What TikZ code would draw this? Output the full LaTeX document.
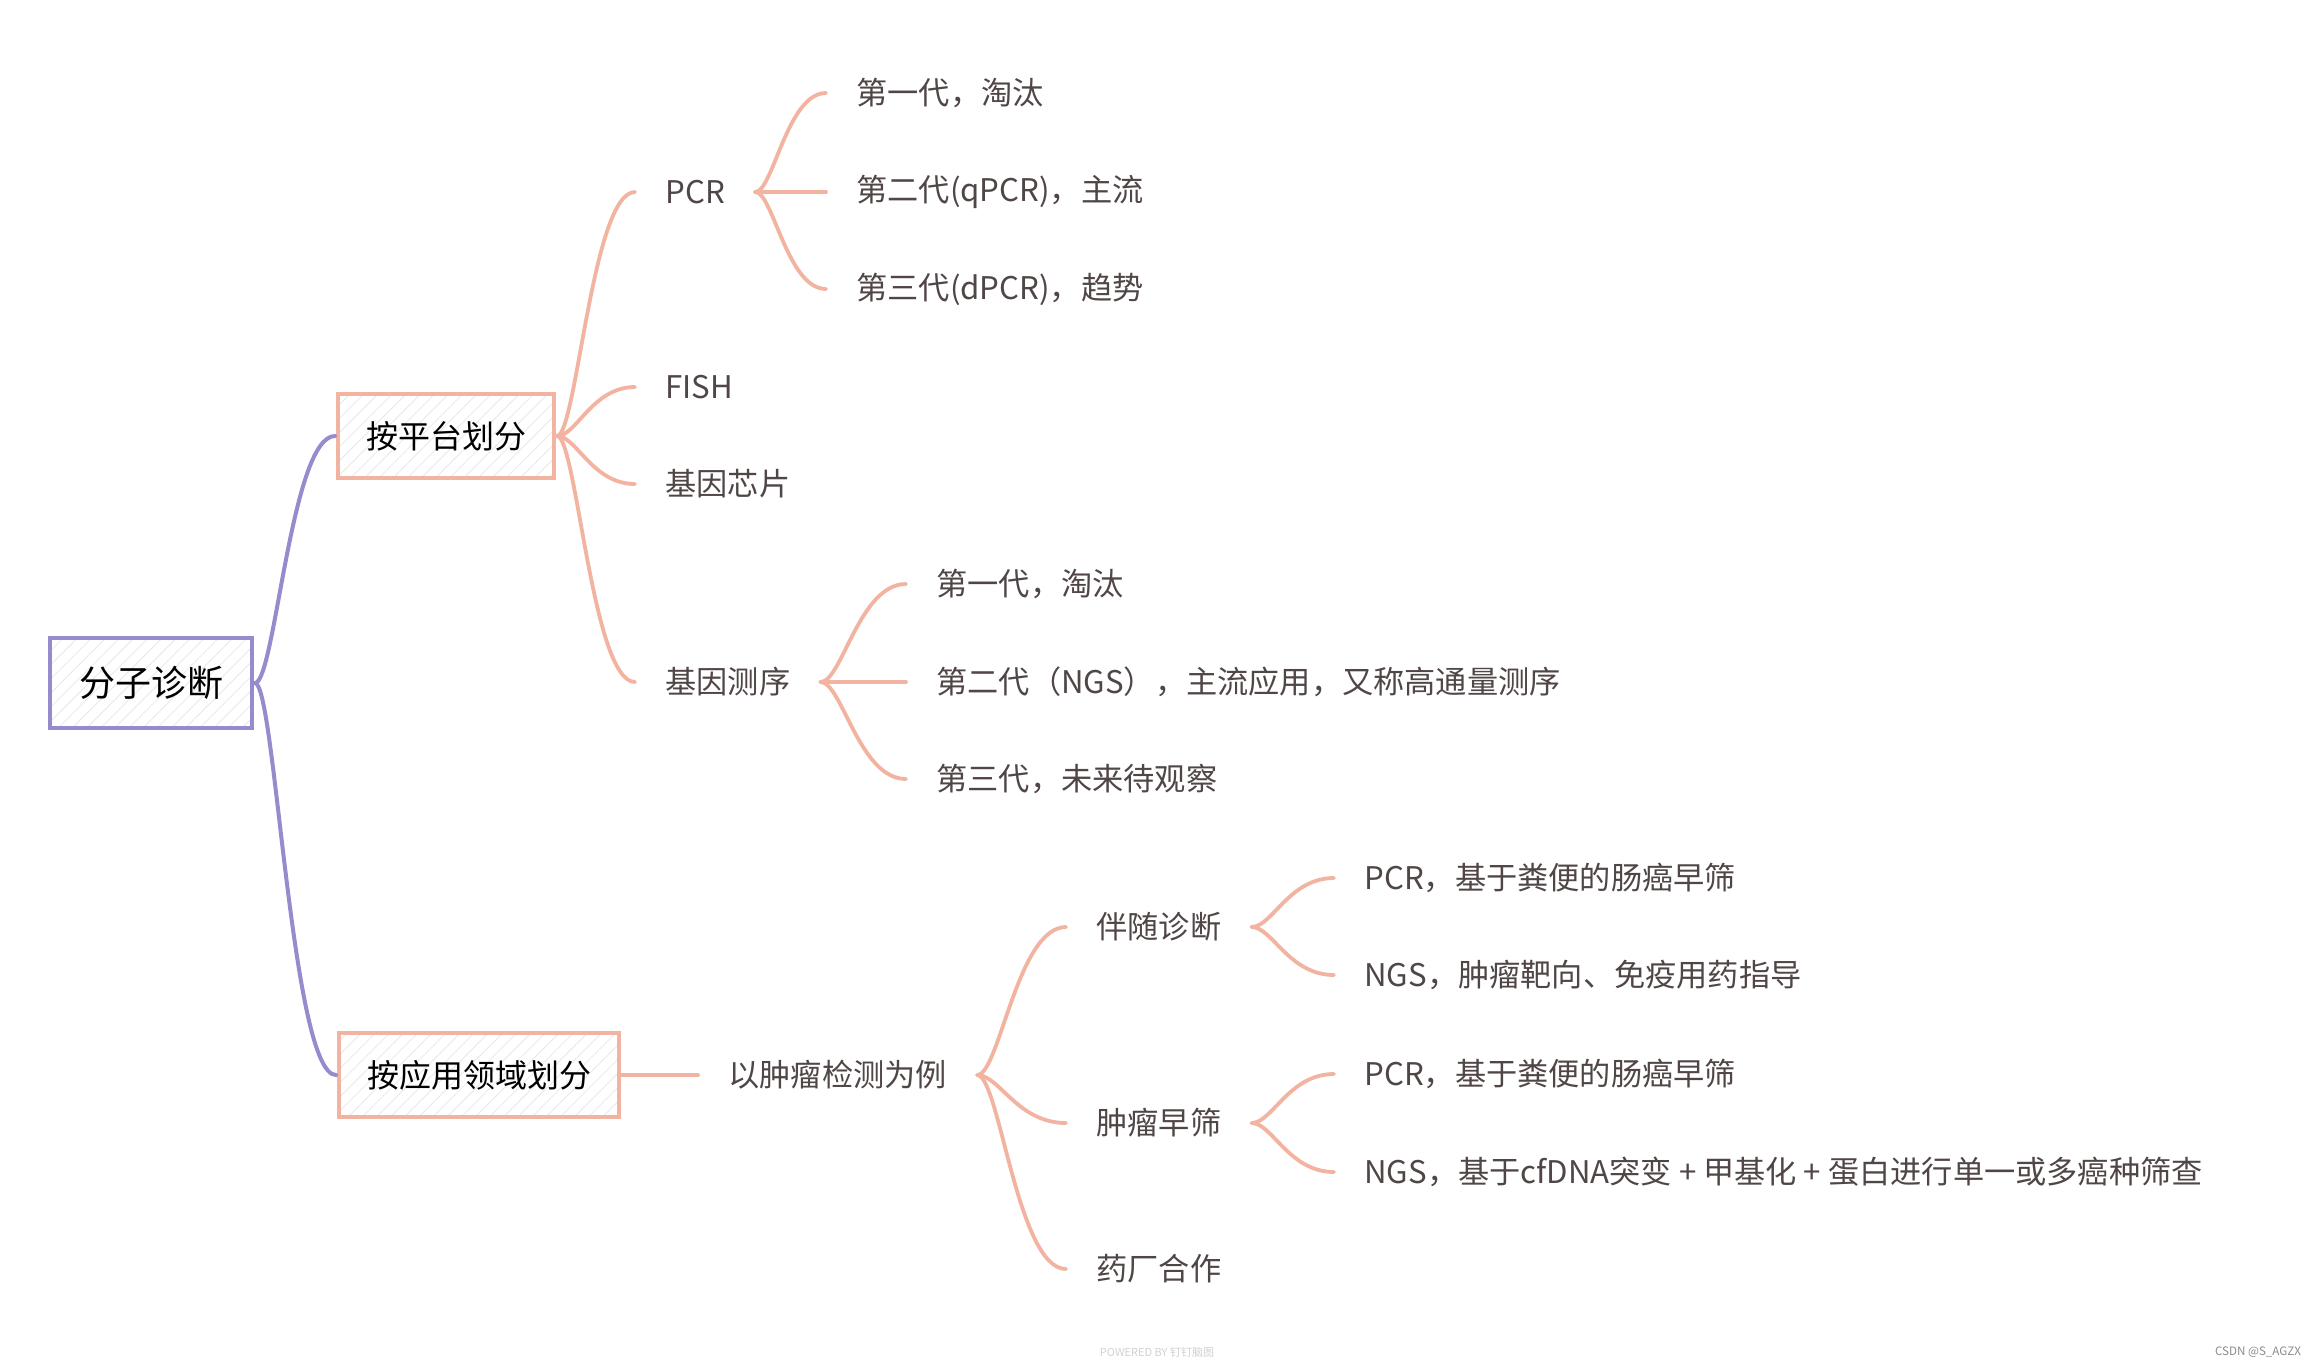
\documentclass[tikz,border=0pt]{standalone}
\usepackage{fontspec}
\usepackage{tikz}
\usetikzlibrary{positioning, calc, patterns.meta}
\newfontfamily\zhfont{Noto Sans CJK SC}
\definecolor{lilaczx}{RGB}{150,140,205}
\definecolor{salmonzx}{RGB}{242,180,160}
\definecolor{inkzx}{RGB}{80,70,70}

\begin{document}
\begin{tikzpicture}[x=0.5pt, y=-0.5pt,
      hatchbox/.style={line width=1.6pt,
                  pattern={Lines[angle=45,distance=5pt,line width=0.4pt]},
                  pattern color=black!9, inner ysep=0pt, outer sep=1.5pt},
      rootbox/.style={hatchbox, draw=lilaczx, inner xsep=14.5pt,
                  minimum height=45pt, font=\zhfont\fontsize{18}{20}\selectfont},
      topicbox/.style={hatchbox, draw=salmonzx, inner xsep=14pt, anchor=west,
                  minimum height=42pt, font=\zhfont\fontsize{16}{18}\selectfont},
      leaf/.style={anchor=west, inner xsep=15pt, inner ysep=3pt, text=inkzx,
                  font=\zhfont\fontsize{15.6}{18}\selectfont},
      branch/.style={to path={let \p1=(\tikztostart), \p2=(\tikztotarget) in
                  .. controls ({\x1+0.25*(\x2-\x1)},\y1) and ({\x1+0.45*(\x2-\x1)},\y2)
                  .. (\tikztotarget)}},
      rootline/.style={draw=lilaczx, line width=2pt, line cap=round},
      leafline/.style={draw=salmonzx, line width=1.9pt, line cap=round}]
    \fill[white] (0,0) rectangle (2314,1366);
    \useasboundingbox (0,0) rectangle (2314,1366);

    % centre et deux grandes branches
    \node[rootbox] (diag) at (151,683) {分子诊断};
    \node[topicbox] (plat) at (335,436) {按平台划分};
    \node[topicbox] (appl) at (336,1075) {按应用领域划分};

    % par plateforme
    \foreach \n/\y/\t in {pcr/192/PCR, fish/387/FISH, chip/484/基因芯片, seq/682/基因测序}
      \node[leaf] (\n) at (635,\y) {\t};
    \foreach \n/\y/\t in {pcrA/93/第一代，淘汰, pcrB/192/第二代(qPCR)，主流,
                          pcrC/289/第三代(dPCR)，趋势}
      \node[leaf] (\n) at (826,\y) {\t};
    \foreach \n/\y/\t in {seqA/584/第一代，淘汰,
                          seqB/682/第二代（NGS），主流应用，又称高通量测序,
                          seqC/779/第三代，未来待观察}
      \node[leaf] (\n) at (906,\y) {\t};

    % par domaine
    \node[leaf] (tumor) at (698,1075) {以肿瘤检测为例};
    \foreach \n/\y/\t in {comp/927/伴随诊断, screen/1123/肿瘤早筛, pharma/1269/药厂合作}
      \node[leaf] (\n) at (1066,\y) {\t};
    \foreach \n/\y/\t in {compA/878/PCR，基于粪便的肠癌早筛,
                          compB/975/NGS，肿瘤靶向、免疫用药指导,
                          scrA/1074/PCR，基于粪便的肠癌早筛,
                          scrB/1172/NGS，基于cfDNA突变 + 甲基化 + 蛋白进行单一或多癌种筛查}
      \node[leaf] (\n) at (1334,\y) {\t};

    % liaisons
    \draw[rootline] (diag.east) to[branch] (plat.west);
    \draw[rootline] (diag.east) to[branch] (appl.west);
    \foreach \c in {pcr,fish,chip,seq}
      \draw[leafline] (plat.east) to[branch] (\c.west);
    \foreach \c in {pcrA,pcrB,pcrC}
      \draw[leafline] (pcr.east) to[branch] (\c.west);
    \foreach \c in {seqA,seqB,seqC}
      \draw[leafline] (seq.east) to[branch] (\c.west);
    \draw[leafline] (appl.east) -- (tumor.west);
    \foreach \c in {comp,screen,pharma}
      \draw[leafline] (tumor.east) to[branch] (\c.west);
    \foreach \c in {compA,compB}
      \draw[leafline] (comp.east) to[branch] (\c.west);
    \foreach \c in {scrA,scrB}
      \draw[leafline] (screen.east) to[branch] (\c.west);

    \node[text=black!18, font=\zhfont\fontsize{5.5}{6}\selectfont] (powered) at (1157,1352)
      {POWERED BY 钉钉脑图};
    \node[text=black!45, font=\zhfont\fontsize{5.8}{6}\selectfont] (csdn) at (2258,1352)
      {CSDN @S\_AGZX};
  \end{tikzpicture}
\end{document}
